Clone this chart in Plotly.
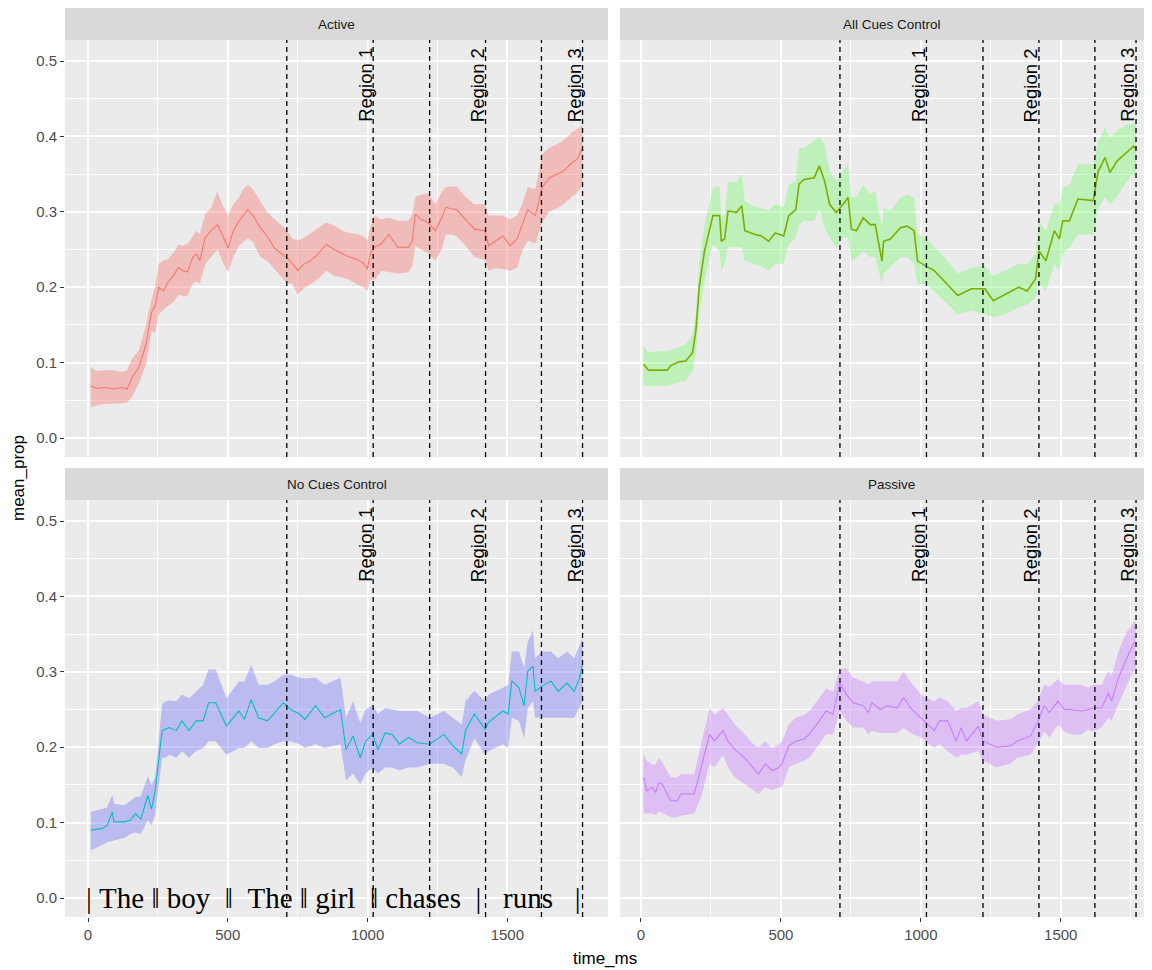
import plotly.graph_objects as go

# ---------------- data ----------------
conditions = ["Active", "All Cues Control", "No Cues Control", "Passive"]
line_colors = ["#F8766D", "#7CAE00", "#00BFC4", "#C77CFF"]
fill_colors = ["rgba(248,118,109,0.40)", "rgba(122,247,110,0.40)",
               "rgba(115,115,247,0.40)", "rgba(199,124,255,0.40)"]

region_lines = [711, 1020, 1222, 1422, 1622, 1769]
region_labels = ["Region 1", "Region 2", "Region 3"]
region_label_x = [1020, 1422, 1769]
sentence_tokens = ["|", "The", "\u2016", "boy", "\u2016", "The", "\u2016", "girl", "\u2016", "chases", "|", "runs", "|"]
sentence_gaps = [1, 1, 1, 2, 2, 1, 1, 2, 1, 2, 3, 3]

y_ticks = [0.0, 0.1, 0.2, 0.3, 0.4, 0.5]
y_tick_labels = ["0.0", "0.1", "0.2", "0.3", "0.4", "0.5"]
x_ticks = [0, 500, 1000, 1500]
x_tick_labels = ["0", "500", "1000", "1500"]

active_t = [10, 30, 60, 90, 120, 140, 157, 182, 208, 227, 240, 253, 270, 285, 305, 323, 340, 355, 375, 387,
            400, 419, 440, 463, 480, 501, 520, 540, 555, 572, 590, 616, 640, 667, 690, 712, 730, 750, 770, 795,
            820, 853, 880, 910, 935, 961, 985, 999, 1010, 1025, 1050, 1076, 1108, 1146, 1160, 1171, 1190, 1216,
            1242, 1265, 1280, 1300, 1318, 1350, 1382, 1420, 1433, 1460, 1484, 1510, 1535, 1555, 1573, 1600, 1624,
            1650, 1680, 1701, 1730, 1750, 1769]
active_mean = [0.069, 0.066, 0.067, 0.065, 0.067, 0.065, 0.080, 0.094, 0.125, 0.167, 0.175, 0.200, 0.195, 0.206,
               0.215, 0.226, 0.222, 0.220, 0.240, 0.244, 0.235, 0.266, 0.275, 0.283, 0.270, 0.252, 0.275, 0.288,
               0.295, 0.303, 0.295, 0.279, 0.268, 0.252, 0.245, 0.239, 0.232, 0.222, 0.230, 0.235, 0.243, 0.257,
               0.250, 0.244, 0.240, 0.237, 0.232, 0.224, 0.245, 0.253, 0.258, 0.270, 0.253, 0.253, 0.262, 0.297,
               0.290, 0.286, 0.275, 0.292, 0.306, 0.304, 0.303, 0.290, 0.277, 0.275, 0.255, 0.262, 0.268, 0.255,
               0.264, 0.285, 0.303, 0.295, 0.332, 0.345, 0.350, 0.354, 0.365, 0.370, 0.385]
active_lo = [0.041, 0.043, 0.045, 0.045, 0.046, 0.047, 0.054, 0.072, 0.098, 0.142, 0.140, 0.164, 0.170, 0.175,
             0.180, 0.190, 0.188, 0.188, 0.205, 0.208, 0.205, 0.230, 0.240, 0.250, 0.235, 0.220, 0.240, 0.255,
             0.260, 0.265, 0.260, 0.240, 0.235, 0.224, 0.215, 0.205, 0.205, 0.190, 0.198, 0.204, 0.210, 0.222,
             0.215, 0.213, 0.210, 0.204, 0.200, 0.195, 0.210, 0.210, 0.222, 0.220, 0.218, 0.220, 0.228, 0.255,
             0.250, 0.245, 0.235, 0.250, 0.270, 0.270, 0.268, 0.255, 0.240, 0.236, 0.222, 0.225, 0.224, 0.222,
             0.226, 0.250, 0.262, 0.258, 0.286, 0.300, 0.305, 0.310, 0.320, 0.325, 0.335]
active_hi = [0.094, 0.089, 0.090, 0.090, 0.088, 0.090, 0.105, 0.116, 0.151, 0.184, 0.200, 0.231, 0.235, 0.237,
             0.245, 0.257, 0.255, 0.257, 0.268, 0.275, 0.270, 0.297, 0.305, 0.327, 0.310, 0.295, 0.310, 0.319,
             0.330, 0.336, 0.330, 0.314, 0.300, 0.290, 0.283, 0.275, 0.265, 0.262, 0.265, 0.271, 0.278, 0.286,
             0.282, 0.275, 0.272, 0.271, 0.268, 0.262, 0.280, 0.294, 0.290, 0.292, 0.288, 0.288, 0.296, 0.320,
             0.322, 0.325, 0.310, 0.326, 0.333, 0.333, 0.334, 0.320, 0.310, 0.310, 0.295, 0.295, 0.295, 0.290,
             0.295, 0.312, 0.333, 0.330, 0.376, 0.385, 0.390, 0.395, 0.405, 0.410, 0.415]

allcues_t = [9, 27, 60, 94, 106, 136, 160, 184, 196, 208, 227, 245, 257, 281, 287, 299, 311, 330, 341, 360,
             371, 408, 430, 456, 480, 510, 528, 553, 565, 583, 619, 637, 656, 674, 698, 722, 740, 752, 770, 794,
             819, 837, 861, 867, 891, 927, 951, 976, 988, 1018, 1048, 1084, 1132, 1181, 1229, 1259, 1302, 1350,
             1380, 1410, 1422, 1447, 1477, 1495, 1507, 1531, 1561, 1616, 1634, 1658, 1676, 1700, 1736, 1760, 1769]
allcues_mean = [0.098, 0.090, 0.090, 0.090, 0.096, 0.101, 0.102, 0.113, 0.142, 0.200, 0.248, 0.275, 0.295, 0.295,
                0.261, 0.264, 0.301, 0.300, 0.299, 0.308, 0.275, 0.270, 0.268, 0.261, 0.272, 0.268, 0.295, 0.303,
                0.337, 0.343, 0.345, 0.361, 0.341, 0.310, 0.299, 0.310, 0.319, 0.277, 0.275, 0.292, 0.283, 0.283,
                0.235, 0.261, 0.264, 0.279, 0.281, 0.275, 0.235, 0.228, 0.222, 0.208, 0.189, 0.198, 0.198, 0.182,
                0.191, 0.200, 0.195, 0.211, 0.248, 0.235, 0.275, 0.264, 0.288, 0.288, 0.317, 0.315, 0.354, 0.372,
                0.352, 0.367, 0.379, 0.387, 0.383]
allcues_lo = [0.069, 0.069, 0.069, 0.069, 0.071, 0.074, 0.076, 0.089, 0.111, 0.164, 0.208, 0.239, 0.257, 0.248,
              0.222, 0.231, 0.253, 0.253, 0.253, 0.253, 0.235, 0.231, 0.228, 0.222, 0.231, 0.231, 0.257, 0.266,
              0.283, 0.288, 0.288, 0.305, 0.279, 0.266, 0.253, 0.266, 0.266, 0.235, 0.239, 0.248, 0.240, 0.240,
              0.204, 0.218, 0.226, 0.240, 0.240, 0.231, 0.204, 0.204, 0.195, 0.182, 0.164, 0.169, 0.164, 0.160,
              0.164, 0.173, 0.177, 0.186, 0.204, 0.195, 0.231, 0.222, 0.244, 0.253, 0.270, 0.270, 0.305, 0.319,
              0.310, 0.319, 0.341, 0.350, 0.345]
allcues_hi = [0.122, 0.113, 0.115, 0.115, 0.117, 0.120, 0.124, 0.137, 0.164, 0.231, 0.283, 0.310, 0.332, 0.334,
              0.292, 0.296, 0.340, 0.340, 0.340, 0.350, 0.314, 0.306, 0.305, 0.301, 0.310, 0.306, 0.336, 0.341,
              0.385, 0.385, 0.394, 0.400, 0.390, 0.354, 0.341, 0.354, 0.365, 0.319, 0.319, 0.336, 0.323, 0.328,
              0.279, 0.305, 0.301, 0.319, 0.323, 0.319, 0.270, 0.266, 0.253, 0.240, 0.218, 0.226, 0.228, 0.215,
              0.222, 0.231, 0.231, 0.244, 0.288, 0.275, 0.310, 0.310, 0.332, 0.336, 0.363, 0.363, 0.394, 0.412,
              0.398, 0.407, 0.416, 0.416, 0.418]

nocues_t = [10, 48, 68, 87, 93, 131, 151, 170, 189, 214, 227, 240, 265, 278, 291, 316, 336, 361, 387, 412,
            431, 457, 495, 540, 559, 584, 610, 642, 667, 699, 725, 757, 776, 814, 846, 903, 923, 948, 974, 993,
            1018, 1037, 1063, 1088, 1114, 1146, 1178, 1222, 1273, 1305, 1337, 1350, 1382, 1420, 1433, 1484, 1503,
            1516, 1541, 1560, 1573, 1592, 1599, 1624, 1656, 1682, 1714, 1739, 1758, 1769]
nocues_mean = [0.090, 0.092, 0.096, 0.114, 0.101, 0.101, 0.103, 0.112, 0.105, 0.136, 0.118, 0.142, 0.222, 0.224,
               0.226, 0.222, 0.235, 0.222, 0.235, 0.235, 0.259, 0.259, 0.228, 0.248, 0.237, 0.263, 0.239, 0.235,
               0.246, 0.259, 0.250, 0.244, 0.237, 0.255, 0.239, 0.250, 0.197, 0.215, 0.186, 0.208, 0.217, 0.197,
               0.219, 0.217, 0.204, 0.213, 0.206, 0.204, 0.217, 0.202, 0.191, 0.222, 0.244, 0.224, 0.233, 0.248,
               0.244, 0.288, 0.279, 0.255, 0.301, 0.307, 0.274, 0.281, 0.288, 0.274, 0.285, 0.274, 0.292, 0.310]
nocues_lo = [0.063, 0.070, 0.074, 0.076, 0.076, 0.080, 0.085, 0.087, 0.085, 0.103, 0.096, 0.110, 0.186, 0.186,
             0.190, 0.186, 0.195, 0.186, 0.195, 0.199, 0.208, 0.208, 0.190, 0.199, 0.199, 0.208, 0.199, 0.199,
             0.204, 0.208, 0.208, 0.204, 0.199, 0.204, 0.199, 0.204, 0.156, 0.165, 0.151, 0.165, 0.173, 0.165,
             0.173, 0.173, 0.169, 0.173, 0.173, 0.178, 0.178, 0.173, 0.160, 0.182, 0.212, 0.190, 0.195, 0.204,
             0.199, 0.239, 0.235, 0.212, 0.252, 0.261, 0.239, 0.239, 0.239, 0.239, 0.239, 0.239, 0.252, 0.261]
nocues_hi = [0.114, 0.118, 0.120, 0.137, 0.125, 0.123, 0.129, 0.134, 0.135, 0.162, 0.150, 0.160, 0.257, 0.261,
             0.262, 0.261, 0.270, 0.265, 0.274, 0.283, 0.303, 0.303, 0.265, 0.287, 0.287, 0.309, 0.283, 0.283,
             0.287, 0.296, 0.296, 0.292, 0.291, 0.292, 0.283, 0.292, 0.239, 0.261, 0.232, 0.250, 0.256, 0.244,
             0.252, 0.250, 0.248, 0.248, 0.248, 0.239, 0.248, 0.239, 0.230, 0.261, 0.275, 0.261, 0.270, 0.279,
             0.283, 0.327, 0.327, 0.305, 0.340, 0.355, 0.318, 0.327, 0.327, 0.318, 0.327, 0.318, 0.336, 0.345]

passive_t = [9, 21, 40, 52, 64, 76, 106, 130, 142, 190, 215, 245, 263, 293, 311, 335, 371, 402, 420, 444,
             468, 493, 504, 528, 553, 583, 601, 637, 661, 686, 710, 734, 758, 794, 812, 825, 855, 879, 915, 939,
             963, 1000, 1018, 1048, 1066, 1096, 1126, 1144, 1163, 1205, 1223, 1271, 1320, 1344, 1392, 1417, 1441,
             1459, 1490, 1513, 1537, 1573, 1597, 1616, 1646, 1670, 1682, 1706, 1736, 1755, 1767]
passive_mean = [0.160, 0.142, 0.147, 0.140, 0.153, 0.151, 0.129, 0.129, 0.138, 0.138, 0.173, 0.217, 0.208, 0.222,
                0.208, 0.197, 0.186, 0.173, 0.164, 0.178, 0.169, 0.173, 0.178, 0.202, 0.208, 0.211, 0.217, 0.235,
                0.248, 0.244, 0.285, 0.270, 0.259, 0.255, 0.246, 0.259, 0.250, 0.255, 0.252, 0.266, 0.252, 0.239,
                0.233, 0.222, 0.235, 0.235, 0.208, 0.226, 0.208, 0.228, 0.208, 0.200, 0.202, 0.208, 0.215, 0.233,
                0.255, 0.246, 0.261, 0.250, 0.250, 0.248, 0.250, 0.252, 0.252, 0.272, 0.261, 0.292, 0.318, 0.334,
                0.340]
passive_lo = [0.112, 0.112, 0.112, 0.110, 0.115, 0.112, 0.107, 0.107, 0.109, 0.112, 0.134, 0.178, 0.173, 0.190,
              0.173, 0.160, 0.151, 0.143, 0.138, 0.147, 0.143, 0.147, 0.147, 0.173, 0.178, 0.182, 0.186, 0.204,
              0.217, 0.217, 0.248, 0.235, 0.226, 0.226, 0.217, 0.222, 0.219, 0.219, 0.219, 0.226, 0.219, 0.213,
              0.208, 0.199, 0.204, 0.195, 0.186, 0.190, 0.190, 0.195, 0.182, 0.173, 0.178, 0.186, 0.190, 0.204,
              0.221, 0.213, 0.230, 0.221, 0.217, 0.217, 0.223, 0.221, 0.226, 0.239, 0.235, 0.257, 0.283, 0.297,
              0.305]
passive_hi = [0.190, 0.182, 0.177, 0.177, 0.186, 0.180, 0.160, 0.160, 0.164, 0.164, 0.204, 0.252, 0.243, 0.252,
              0.243, 0.230, 0.217, 0.204, 0.200, 0.208, 0.199, 0.204, 0.208, 0.230, 0.239, 0.243, 0.248, 0.265,
              0.278, 0.274, 0.303, 0.305, 0.292, 0.287, 0.283, 0.287, 0.287, 0.287, 0.287, 0.300, 0.287, 0.270,
              0.266, 0.261, 0.266, 0.261, 0.248, 0.252, 0.252, 0.261, 0.243, 0.235, 0.237, 0.243, 0.250, 0.261,
              0.283, 0.280, 0.290, 0.283, 0.283, 0.283, 0.279, 0.283, 0.283, 0.301, 0.295, 0.327, 0.353, 0.362,
              0.368]

series_t = [active_t, allcues_t, nocues_t, passive_t]
series_mean = [active_mean, allcues_mean, nocues_mean, passive_mean]
series_lo = [active_lo, allcues_lo, nocues_lo, passive_lo]
series_hi = [active_hi, allcues_hi, nocues_hi, passive_hi]

# ---------------- layout geometry (window pixels; the page body adds an 8px margin) ----------------
OFF = 8
W, H = 1152, 970 - OFF
panel_x = [(65, 608), (620, 1160), (65, 608), (620, 1160)]
panel_y = [(40, 457), (40, 457), (500, 917), (500, 917)]
strip_y = [(8, 40), (8, 40), (468, 500), (468, 500)]
x_ranges = [[-82.3, 1860], [-75, 1854.6], [-82.3, 1860], [-75, 1854.6]]
y_range = [-0.0252, 0.5279]


def px(v):
    return (v - OFF) / W


def py(v):
    return 1 - (v - OFF) / H


FONT = "Liberation Sans, Arial, sans-serif"
fig = go.Figure()

for i in range(4):
    ax = "" if i == 0 else str(i + 1)
    xa, ya = "x" + ax, "y" + ax
    t = series_t[i]
    fig.add_trace(go.Scatter(
        x=list(t) + list(t)[::-1], y=list(series_hi[i]) + list(series_lo[i])[::-1],
        fill="toself", fillcolor=fill_colors[i], line=dict(width=0),
        mode="lines", hoverinfo="skip", showlegend=False, xaxis=xa, yaxis=ya))
    fig.add_trace(go.Scatter(
        x=t, y=series_mean[i], mode="lines",
        line=dict(color=line_colors[i], width=1.6 if i == 1 else 1.1),
        showlegend=False, xaxis=xa, yaxis=ya))

    x0, x1 = panel_x[i]
    y0, y1 = panel_y[i]
    bottom_row = i >= 2
    left_col = i % 2 == 0
    fig.update_layout(**{
        "xaxis" + ax: dict(
            domain=[px(x0), min(px(x1), 1.0)], range=x_ranges[i], anchor=ya,
            tickvals=x_ticks, ticktext=x_tick_labels, showticklabels=bottom_row,
            ticks="outside" if bottom_row else "", ticklen=4, tickwidth=1, tickcolor="#333333",
            tickfont=dict(family=FONT, size=15, color="#4D4D4D"),
            showgrid=True, gridcolor="white", gridwidth=1.5, zeroline=False,
            minor=dict(dtick=250, tick0=250, showgrid=True, gridcolor="white", gridwidth=0.7, ticks=""),
            showline=False, fixedrange=True),
        "yaxis" + ax: dict(
            domain=[py(y1), py(y0)], range=y_range, anchor=xa,
            tickvals=y_ticks, ticktext=y_tick_labels, showticklabels=left_col,
            ticks="outside" if left_col else "", ticklen=4, tickwidth=1, tickcolor="#333333",
            tickfont=dict(family=FONT, size=15, color="#4D4D4D"),
            showgrid=True, gridcolor="white", gridwidth=1.5, zeroline=False,
            minor=dict(dtick=0.1, tick0=0.05, showgrid=True, gridcolor="white", gridwidth=0.7, ticks=""),
            showline=False, fixedrange=True),
    })

    # panel background
    fig.add_shape(type="rect", xref="paper", yref="paper", x0=px(x0), x1=min(px(x1), 1.0),
                  y0=py(y1), y1=py(y0), fillcolor="#EBEBEB", line=dict(width=0), layer="below")
    # strip
    s0, s1 = strip_y[i]
    fig.add_shape(type="rect", xref="paper", yref="paper", x0=px(x0), x1=min(px(x1), 1.0),
                  y0=py(s1), y1=py(s0), fillcolor="#D9D9D9", line=dict(width=0))
    full_right = x0 + (608 - 65)
    fig.add_annotation(xref="paper", yref="paper", x=px((x0 + full_right) / 2),
                       y=py((s0 + s1) / 2), text=conditions[i], showarrow=False,
                       font=dict(family=FONT, size=13.5, color="#1A1A1A"), xanchor="center", yanchor="middle")

    # dashed region lines
    for xv in region_lines:
        fig.add_shape(type="line", xref=xa, yref=ya + " domain", x0=xv, x1=xv, y0=0, y1=1,
                      line=dict(color="black", width=1.3, dash="5px,4px"))
    for lbl, xv in zip(region_labels, region_label_x):
        fig.add_annotation(xref=xa, yref=ya, x=xv, y=0.468, text=lbl, textangle=-90,
                           showarrow=False, xanchor="right", yanchor="middle", xshift=4,
                           font=dict(family=FONT, size=18.5, color="black"))

# sentence under the No Cues Control panel
sentence = sentence_tokens[0]
for gap, tok in zip(sentence_gaps, sentence_tokens[1:]):
    sentence += "\u00a0" * gap + tok
fig.add_annotation(xref="x3", yref="y3", x=0, y=0.0, text=sentence, showarrow=False,
                   xanchor="left", yanchor="middle", xshift=-4,
                   font=dict(family="Liberation Serif, Times New Roman, serif", size=29, color="black"))

# axis titles
fig.add_annotation(xref="paper", yref="paper", x=px(605), y=py(958), text="time_ms",
                   showarrow=False, xanchor="center", yanchor="middle",
                   font=dict(family=FONT, size=17, color="black"))
fig.add_annotation(xref="paper", yref="paper", x=px(18), y=py(478), text="mean_prop",
                   textangle=-90, showarrow=False, xanchor="center", yanchor="middle",
                   font=dict(family=FONT, size=17, color="black"))

fig.update_layout(width=W, height=H, margin=dict(l=0, r=0, t=0, b=0),
                  paper_bgcolor="white", plot_bgcolor="rgba(0,0,0,0)", showlegend=False)

fig.write_html("out.html")
